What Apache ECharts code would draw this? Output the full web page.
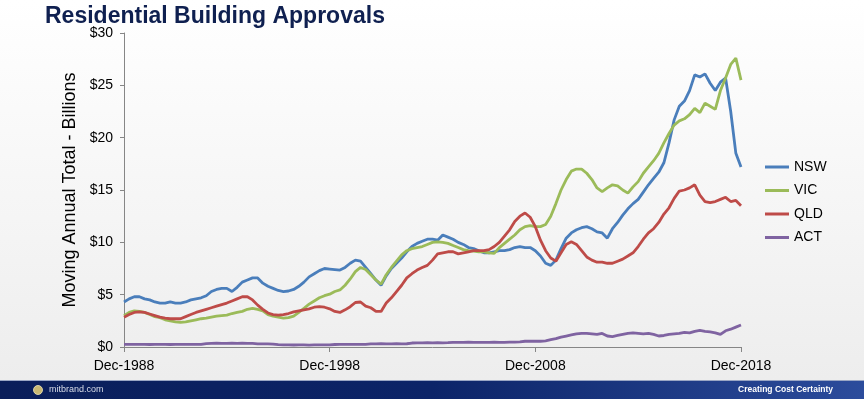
<!DOCTYPE html>
<html>
<head>
<meta charset="utf-8">
<script src="https://cdn.jsdelivr.net/npm/echarts@6/dist/echarts.min.js"></script>
<style>
html,body{margin:0;padding:0;width:864px;height:399px;overflow:hidden;}
body{background:linear-gradient(to bottom,#ffffff 0%,#f4f4f4 60%,#ececec 100%);}
#chart{width:864px;height:399px;}
</style>
</head>
<body>
<div id="chart"></div>
<script>
// Quarterly categories Dec-1988 .. Dec-2018
const startYear = 1988;
const quarterMonths = ["Dec", "Mar", "Jun", "Sep"];
const categories = [];
for (let i = 0; i <= 120; i++) {
  const m = quarterMonths[i % 4];
  const y = startYear + Math.ceil(i / 4);
  categories.push(m + "-" + y);
}
const tickLabels = ["Dec-1988", "Dec-1998", "Dec-2008", "Dec-2018"];
const yTicks = [0, 5, 10, 15, 20, 25, 30];

const nsw = [4.3,4.6,4.8,4.8,4.6,4.5,4.3,4.2,4.2,4.3,4.2,4.2,4.3,4.5,4.6,4.7,4.9,5.3,5.5,5.6,
5.6,5.3,5.7,6.2,6.4,6.6,6.6,6.1,5.8,5.6,5.4,5.3,5.35,5.5,5.8,6.2,6.7,7.0,7.3,7.5,
7.45,7.4,7.35,7.6,8.0,8.3,8.2,7.6,7.0,6.4,5.9,6.8,7.5,8.0,8.5,9.1,9.6,9.9,10.1,10.3,
10.3,10.2,10.7,10.5,10.3,10.0,9.8,9.5,9.4,9.2,9.0,9.0,9.1,9.2,9.2,9.3,9.5,9.6,9.5,9.5,
9.2,8.7,8.0,7.8,8.3,9.4,10.4,10.9,11.2,11.4,11.5,11.3,11.0,10.9,10.4,11.3,11.9,12.6,13.2,13.7,
14.1,14.8,15.5,16.1,16.7,17.6,19.5,21.7,23.0,23.5,24.5,26.0,25.8,26.1,25.2,24.5,25.3,25.7,22.5,18.5,
17.2];
const vic = [3.0,3.3,3.45,3.4,3.3,3.1,2.9,2.8,2.6,2.5,2.4,2.35,2.4,2.5,2.6,2.7,2.75,2.85,2.95,3.0,
3.05,3.2,3.3,3.4,3.6,3.7,3.6,3.45,3.1,2.95,2.85,2.75,2.8,2.95,3.3,3.7,4.1,4.4,4.7,4.9,
5.05,5.3,5.45,5.9,6.5,7.2,7.6,7.4,6.9,6.4,6.0,6.9,7.6,8.2,8.8,9.2,9.4,9.5,9.6,9.8,
10.0,10.05,10.0,9.9,9.7,9.5,9.3,9.2,9.15,9.1,9.1,9.0,8.95,9.5,9.9,10.3,10.7,11.2,11.5,11.6,
11.5,11.5,11.7,12.5,13.7,15.0,16.0,16.8,17.0,17.0,16.6,16.0,15.2,14.85,15.2,15.5,15.4,15.0,14.7,15.3,
15.8,16.6,17.2,17.8,18.5,19.5,20.4,21.2,21.6,21.8,22.2,22.8,22.4,23.3,23.0,22.7,24.5,25.7,27.0,27.6,
25.5];
const qld = [2.85,3.1,3.3,3.35,3.3,3.15,3.0,2.85,2.75,2.7,2.7,2.7,2.9,3.1,3.3,3.45,3.6,3.75,3.9,4.05,
4.2,4.4,4.6,4.8,4.8,4.5,4.0,3.6,3.25,3.1,3.05,3.1,3.2,3.35,3.45,3.55,3.65,3.8,3.85,3.8,
3.65,3.4,3.3,3.55,3.85,4.25,4.3,3.9,3.75,3.4,3.4,4.2,4.7,5.3,5.9,6.6,7.0,7.35,7.6,7.8,
8.3,8.9,9.0,9.1,9.1,8.9,9.0,9.1,9.2,9.2,9.2,9.3,9.6,10.0,10.6,11.2,12.0,12.5,12.8,12.4,
11.5,10.2,9.2,8.5,8.2,9.0,9.8,10.05,9.8,9.2,8.6,8.3,8.1,8.1,8.0,8.0,8.2,8.4,8.7,9.0,
9.6,10.3,10.9,11.3,11.9,12.7,13.3,14.2,14.9,15.0,15.2,15.5,14.5,13.9,13.8,13.9,14.1,14.3,13.9,14.0,
13.5];
const act = [0.25,0.25,0.26,0.25,0.25,0.24,0.25,0.25,0.25,0.24,0.25,0.25,0.25,0.26,0.25,0.25,0.33,0.35,0.36,0.35,
0.35,0.36,0.35,0.36,0.35,0.34,0.3,0.3,0.29,0.28,0.22,0.2,0.2,0.19,0.2,0.2,0.18,0.2,0.2,0.2,
0.2,0.24,0.25,0.25,0.26,0.25,0.25,0.26,0.3,0.3,0.31,0.3,0.3,0.32,0.3,0.31,0.38,0.4,0.4,0.42,
0.4,0.41,0.4,0.42,0.45,0.44,0.45,0.46,0.45,0.44,0.45,0.45,0.46,0.45,0.45,0.47,0.46,0.48,0.55,0.55,
0.56,0.55,0.58,0.7,0.8,0.95,1.05,1.15,1.25,1.3,1.3,1.25,1.2,1.3,1.05,1.0,1.1,1.2,1.3,1.35,
1.3,1.25,1.3,1.2,1.05,1.1,1.2,1.25,1.3,1.4,1.35,1.5,1.6,1.5,1.45,1.35,1.2,1.55,1.7,1.9,
2.1];

const seriesNames = ["NSW", "VIC", "QLD", "ACT"];
const seriesData = [nsw, vic, qld, act];
const seriesColors = ["#4A7EBB", "#9BBB59", "#BE4B48", "#7F63A1"];

const chart = echarts.init(document.getElementById('chart'), null, {renderer: 'canvas'});
const option = {
  backgroundColor: 'transparent',
  animation: false,
  title: {
    text: 'Residential Building Approvals',
    left: 40, top: 0,
    textStyle: {fontFamily: 'Liberation Sans, Arial, sans-serif', fontSize: 23, fontWeight: 'bold', color: '#0F2050'}
  },
  grid: {left: 124, right: 123, top: 33, bottom: 52, containLabel: false},
  legend: {
    orient: 'vertical',
    left: 760, top: 155,
    itemWidth: 24, itemHeight: 3, itemGap: 9.5,
    icon: 'rect',
    data: seriesNames,
    textStyle: {fontFamily: 'Liberation Sans, Arial, sans-serif', fontSize: 14, color: '#000'}
  },
  xAxis: {
    type: 'category',
    data: categories,
    boundaryGap: false,
    axisLine: {lineStyle: {color: '#868686', width: 1}},
    axisTick: {show: true, interval: 39, length: 5, lineStyle: {color: '#868686'}},
    axisLabel: {
      interval: 39,
      margin: 12,
      color: '#000',
      fontFamily: 'Liberation Sans, Arial, sans-serif', fontSize: 14,
      formatter: v => tickLabels.includes(v) ? v : ''
    },
    splitLine: {show: false}
  },
  yAxis: {
    type: 'value',
    min: yTicks[0], max: yTicks[yTicks.length - 1], interval: 5,
    name: 'Moving Annual Total - Billions',
    nameLocation: 'middle',
    nameGap: 45,
    nameTextStyle: {fontFamily: 'Liberation Sans, Arial, sans-serif', fontSize: 18, color: '#000'},
    axisLine: {show: true, lineStyle: {color: '#868686', width: 1}},
    axisTick: {show: true, length: 4, lineStyle: {color: '#868686'}},
    axisLabel: {color: '#000', fontFamily: 'Liberation Sans, Arial, sans-serif', fontSize: 14, margin: 11, formatter: '${value}'},
    splitLine: {show: false}
  },
  series: seriesNames.map((n, k) => ({
    name: n, type: 'line', data: seriesData[k],
    showSymbol: false, symbol: 'none',
    lineStyle: {color: seriesColors[k], width: 2.8},
    itemStyle: {color: seriesColors[k]}
  })),
  graphic: [
    {type: 'rect', left: 0, top: 381, shape: {width: 864, height: 18},
     style: {fill: new echarts.graphic.LinearGradient(0, 0, 1, 0, [
       {offset: 0, color: '#0A1E5A'}, {offset: 0.5, color: '#0C2468'}, {offset: 1, color: '#2C4C9C'}])}},
    {type: 'rect', left: 0, top: 380, shape: {width: 864, height: 1}, style: {fill: '#9AA6C4'}},
    {type: 'circle', shape: {cx: 38, cy: 390, r: 4.5}, style: {fill: '#C9B873', stroke: '#F1E7B8', lineWidth: 0.8}},
    {type: 'text', left: 49, top: 385, style: {text: 'mitbrand.com', fill: '#D8DCE8', font: '9px Liberation Sans, Arial, sans-serif'}},
    {type: 'text', right: 31, top: 385, style: {text: 'Creating Cost Certainty', fill: '#FFFFFF', font: 'bold 8.5px Liberation Sans, Arial, sans-serif'}}
  ]
};
chart.setOption(option);
</script>
</body>
</html>
